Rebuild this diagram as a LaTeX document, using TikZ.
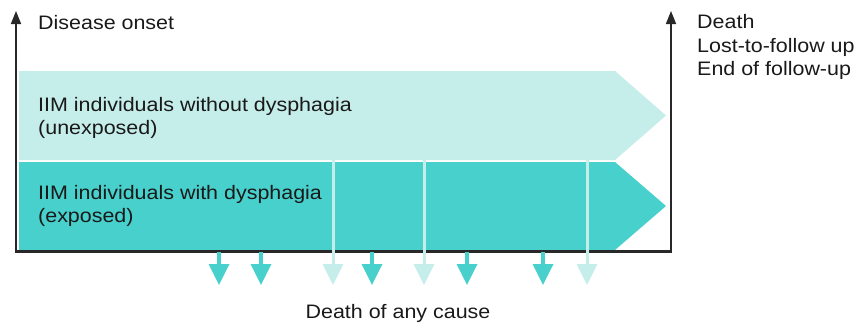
\documentclass[tikz,border=0pt]{standalone}
\usepackage{fontspec}
\setmainfont[FakeStretch=1.1]{Liberation Sans}
\usetikzlibrary{arrows.meta}
\definecolor{lightband}{RGB}{197,237,234}
\definecolor{darkband}{RGB}{72,208,204}
\definecolor{axisgray}{RGB}{40,40,40}
\tikzset{
  lbl/.style={anchor=base west, inner sep=0pt, font=\fontsize{19.5}{23}\selectfont, text=black!90},
  axisline/.style={draw=axisgray, line width=1.6pt, -{Triangle[width=10pt,length=13pt]}},
  darkarrow/.style={draw=darkband, line width=3.5pt, -{Triangle[width=20pt,length=21pt]}},
  lightarrow/.style={draw=lightband, line width=3pt, -{Triangle[width=20pt,length=21pt]}},
}
\begin{document}
\begin{tikzpicture}[x=1pt,y=-1pt]
\useasboundingbox (0,0) rectangle (859,327);
% bands
\fill[lightband] (19,71) -- (615,71) -- (666,115.5) -- (615,160) -- (19,160) -- cycle;
\fill[darkband] (19,162) -- (615,162) -- (666,206) -- (615,250) -- (19,250) -- cycle;
% coordinates
\coordinate (o) at (16,251);
\coordinate (lt) at (16,11);
\coordinate (re) at (671,251);
\coordinate (rt) at (671,11);
% axes
\draw[axisgray, line width=3pt] (15,251) -- (672,251);
\draw[axisline] (o) -- (lt);
\draw[axisline] (re) -- (rt);
% death arrows (exposed)
\foreach \x/\n in {219/a,261/b,372/c,467/d,543/e}{
  \coordinate (ds\n) at (\x,252);
  \coordinate (de\n) at (\x,285);
  \draw[darkarrow] (ds\n) -- (de\n);
}
% death arrows (unexposed)
\foreach \x/\n in {333/a,424/b,587/c}{
  \coordinate (ls\n) at (\x,160);
  \coordinate (le\n) at (\x,285);
  \draw[lightarrow] (ls\n) -- (le\n);
}
% labels
\node[lbl] (onset) at (38,29) {Disease onset};
\node[lbl] (death) at (697,28) {Death};
\node[lbl] (lost) at (697,52) {Lost-to-follow up};
\node[lbl] (end) at (697,75.5) {End of follow-up};
\node[lbl] (un1) at (38,111) {IIM individuals without dysphagia};
\node[lbl] (un2) at (38,134) {(unexposed)};
\node[lbl] (ex1) at (38,199) {IIM individuals with dysphagia};
\node[lbl] (ex2) at (38,222) {(exposed)};
\node[lbl, anchor=base] (cause) at (398,318) {Death of any cause};
\end{tikzpicture}
\end{document}
